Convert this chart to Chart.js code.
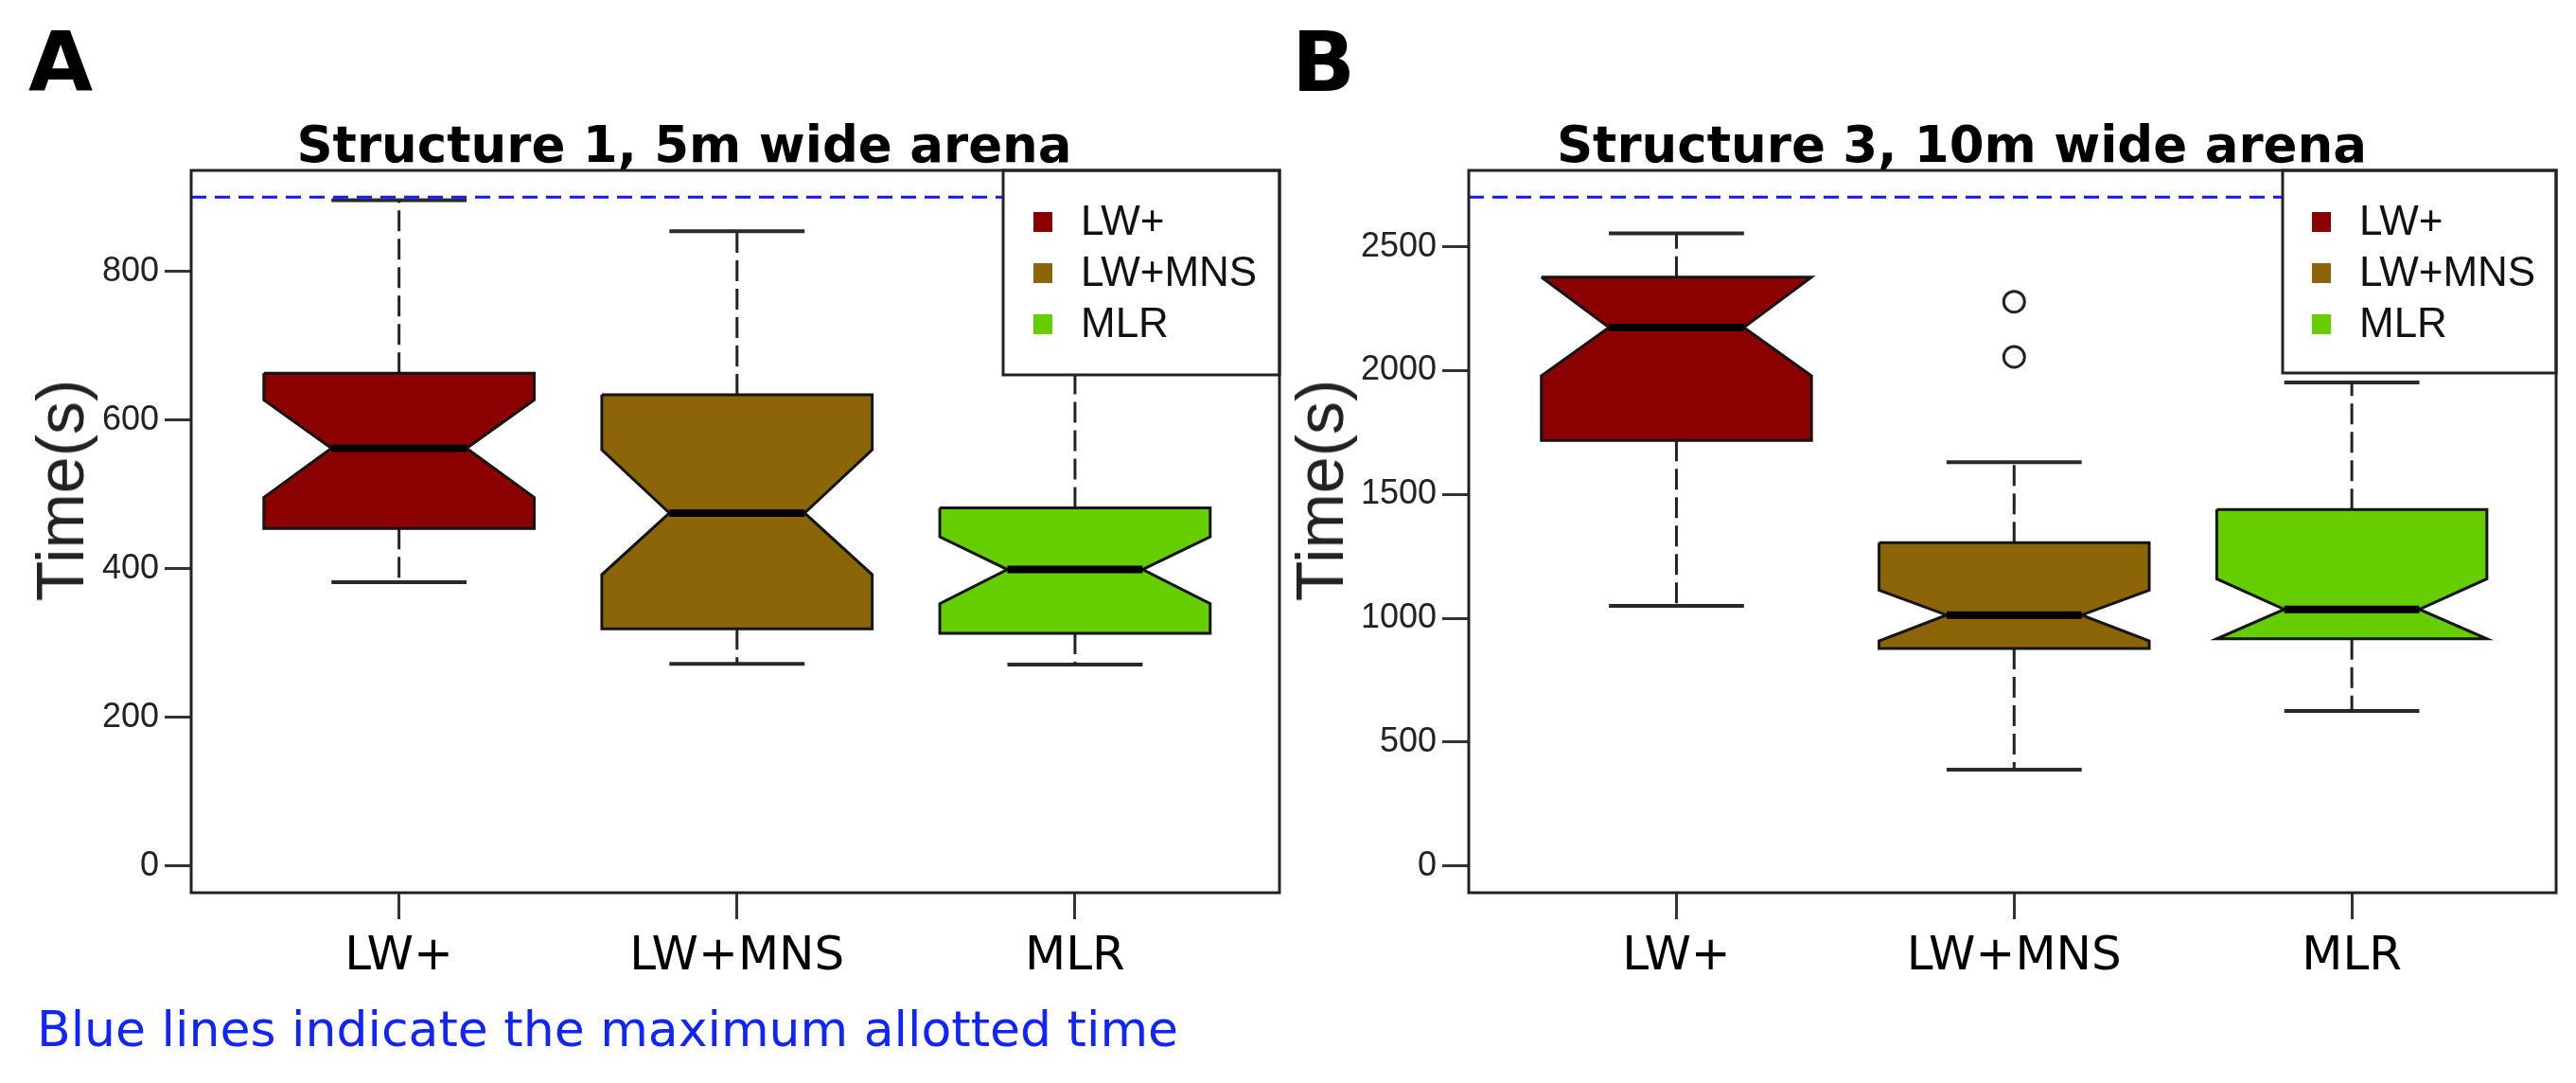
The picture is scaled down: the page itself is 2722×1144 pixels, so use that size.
<!DOCTYPE html>
<html>
<head>
<meta charset="utf-8">
<title>Time to complete task by structure</title>
<script src="https://cdn.jsdelivr.net/npm/chart.js@4.4.1/dist/chart.umd.min.js"></script>
<style>
  html, body { margin: 0; padding: 0; background: #fff; }
  body { width: 2722px; height: 1144px; position: relative; overflow: hidden; }
  .panel { position: absolute; top: 0; height: 1144px; }
  #panelA { left: 0; width: 1360px; }
  #panelB { left: 1360px; width: 1362px; }
  .tag { position: absolute; top: 22px; font: bold 88px/88px "DejaVu Sans"; color: #000; }
  .title {
    position: absolute;
    top: 126px;
    font: bold 53px/53px "DejaVu Sans";
    color: #000;
    white-space: nowrap;
    transform: translateX(-50%);
  }
  .ylab {
    position: absolute;
    font: 70px/70px "Liberation Sans";
    color: #222;
    white-space: nowrap;
    transform: translate(-50%, -50%) rotate(-90deg);
  }
  #note { position: absolute; left: 39px; top: 1061px; font: 52px/52px "DejaVu Sans"; color: #0f24ff; white-space: nowrap; }
</style>
</head>
<body>
<div class="panel" id="panelA"><canvas id="chartA" width="1360" height="1144"></canvas></div>
<div class="panel" id="panelB"><canvas id="chartB" width="1362" height="1144"></canvas></div>
<div class="tag" style="left:30px">A</div>
<div class="tag" style="left:1365px">B</div>
<div class="title" style="left:723px">Structure 1, 5m wide arena</div>
<div class="title" style="left:2073px">Structure 3, 10m wide arena</div>
<div class="ylab" style="left:64px; top:518px">Time(s)</div>
<div class="ylab" style="left:1395px; top:518px">Time(s)</div>
<div id="note">Blue lines indicate the maximum allotted time</div>

<script>
const groups = ['LW+', 'LW+MNS', 'MLR'];
const groupColors = ['#8b0000', '#8b6508', '#66cd00'];

// Structure 1, 5m wide arena (seconds)
const s1WhiskerLow = [382, 272, 271];
const s1Q1 = [454, 319, 313];
const s1NotchLow = [496, 392, 353];
const s1Median = [562, 475, 399];
const s1NotchHigh = [627, 560, 443];
const s1Q3 = [663, 634, 482];
const s1WhiskerHigh = [896, 854, 790];
const s1Outliers = [[], [], []];
const s1Limit = 900;
const s1Ticks = [0, 200, 400, 600, 800];

// Structure 3, 10m wide arena (seconds)
const s3WhiskerLow = [1050, 389, 626];
const s3Q1 = [1718, 878, 917];
const s3NotchLow = [1979, 908, 917];
const s3Median = [2174, 1013, 1036];
const s3NotchHigh = [2377, 1113, 1159];
const s3Q3 = [2377, 1305, 1439];
const s3WhiskerHigh = [2554, 1630, 1952];
const s3Outliers = [[], [2055, 2278], []];
const s3Limit = 2700;
const s3Ticks = [0, 500, 1000, 1500, 2000, 2500];

const BOX_HALF = 0.4;
const NOTCH_HALF = 0.2;
const X_MIN = 0.385;
const X_MAX = 3.605;

// R pads the y range by 4% on each side
function paddedRange(lo, hi) {
  const pad = (hi - lo) * 0.04;
  return [lo - pad, hi + pad];
}

function notchedBox(x, q1, nLo, med, nHi, q3) {
  const w = BOX_HALF, n = NOTCH_HALF;
  return [
    {x: x - w, y: q3}, {x: x + w, y: q3}, {x: x + w, y: nHi}, {x: x + n, y: med},
    {x: x + w, y: nLo}, {x: x + w, y: q1}, {x: x - w, y: q1}, {x: x - w, y: nLo},
    {x: x - n, y: med}, {x: x - w, y: nHi}, {x: x - w, y: q3},
  ];
}

function buildDatasets(s) {
  const sets = [];
  groups.forEach((g, i) => {
    const x = i + 1;
    sets.push({
      type: 'line',
      data: [{x, y: s.q3[i]}, {x, y: s.hi[i]}, {x, y: null}, {x, y: s.q1[i]}, {x, y: s.lo[i]}],
      borderColor: '#222', borderWidth: 3, borderDash: [22, 8],
      pointRadius: 0, spanGaps: false, order: 6,
    });
    sets.push({
      type: 'line',
      data: [
        {x: x - NOTCH_HALF, y: s.hi[i]}, {x: x + NOTCH_HALF, y: s.hi[i]}, {x, y: null},
        {x: x - NOTCH_HALF, y: s.lo[i]}, {x: x + NOTCH_HALF, y: s.lo[i]},
      ],
      borderColor: '#2a2a2a', borderWidth: 4,
      pointRadius: 0, spanGaps: false, order: 6,
    });
    sets.push({
      type: 'line',
      label: g,
      data: notchedBox(x, s.q1[i], s.nLo[i], s.med[i], s.nHi[i], s.q3[i]),
      borderColor: '#151515', borderWidth: 3, borderJoinStyle: 'miter',
      backgroundColor: groupColors[i], fill: 'shape',
      pointRadius: 0, order: 3,
    });
    sets.push({
      type: 'line',
      data: [{x: x - NOTCH_HALF, y: s.med[i]}, {x: x + NOTCH_HALF, y: s.med[i]}],
      borderColor: '#000', borderWidth: 8, borderCapStyle: 'butt',
      pointRadius: 0, order: 1,
    });
    if (s.out[i].length) {
      sets.push({
        type: 'scatter',
        data: s.out[i].map(v => ({x, y: v})),
        pointRadius: 11, pointBorderWidth: 3,
        pointBorderColor: '#222', pointBackgroundColor: '#fff',
        order: 0,
      });
    }
  });
  sets.push({
    type: 'line',
    data: [{x: X_MIN, y: s.limit}, {x: X_MAX, y: s.limit}],
    borderColor: '#1515ff', borderWidth: 3, borderDash: [16, 9],
    pointRadius: 0, order: 4,
  });
  return sets;
}

const frameAndLegend = {
  id: 'frameAndLegend',
  afterDatasetsDraw(chart, args, opts) {
    const {ctx, chartArea} = chart;
    const left = chartArea.right - opts.width;
    const top = chartArea.top;
    ctx.save();
    ctx.fillStyle = '#fff';
    ctx.fillRect(left, top, opts.width, opts.height);
    ctx.lineWidth = 3;
    ctx.strokeStyle = '#222';
    ctx.strokeRect(left, top, opts.width, opts.height);
    ctx.font = '44px "Liberation Sans"';
    ctx.textBaseline = 'middle';
    ctx.textAlign = 'left';
    groups.forEach((g, i) => {
      const y = top + opts.firstRow + i * opts.rowGap;
      ctx.fillStyle = groupColors[i];
      ctx.fillRect(left + opts.swatchX, y - 10, 20, 21);
      ctx.fillStyle = '#111';
      ctx.fillText(g, left + opts.textX, y + 2);
    });
    ctx.restore();
  },
  afterDraw(chart) {
    const {ctx, chartArea} = chart;
    ctx.save();
    ctx.lineWidth = 3;
    ctx.strokeStyle = '#222';
    ctx.strokeRect(chartArea.left, chartArea.top, chartArea.right - chartArea.left, chartArea.bottom - chartArea.top);
    ctx.restore();
  },
};

function makeChart(canvasId, s) {
  const [yMin, yMax] = paddedRange(0, s.limit);
  return new Chart(document.getElementById(canvasId), {
    type: 'line',
    data: { datasets: buildDatasets(s) },
    plugins: [frameAndLegend],
    options: {
      responsive: false,
      animation: false,
      events: [],
      layout: { padding: s.padding },
      scales: {
        x: {
          type: 'linear',
          min: X_MIN,
          max: X_MAX,
          border: { display: false },
          grid: { drawOnChartArea: false, tickLength: 28, tickWidth: 3, tickColor: '#333' },
          ticks: {
            autoSkip: false,
            maxRotation: 0,
            padding: 10,
            color: '#000',
            font: { family: 'DejaVu Sans', size: 50 },
            callback: (value, index) => groups[index],
          },
          afterBuildTicks: axis => { axis.ticks = groups.map((g, i) => ({value: i + 1})); },
          afterFit: axis => { axis.height = 201; },
        },
        y: {
          type: 'linear',
          min: yMin,
          max: yMax,
          border: { display: false },
          grid: { drawOnChartArea: false, tickLength: 28, tickWidth: 3, tickColor: '#333' },
          ticks: {
            padding: 6,
            color: '#222',
            font: { family: 'Liberation Sans', size: 36 },
            callback: value => String(value),
          },
          afterBuildTicks: axis => { axis.ticks = s.ticks.map(v => ({value: v})); },
          afterFit: axis => { axis.width = s.yAxisWidth; },
        },
      },
      plugins: {
        legend: { display: false },
        tooltip: { enabled: false },
        title: { display: false },
        frameAndLegend: s.legend,
      },
    },
  });
}

makeChart('chartA', {
  lo: s1WhiskerLow, q1: s1Q1, nLo: s1NotchLow, med: s1Median, nHi: s1NotchHigh,
  q3: s1Q3, hi: s1WhiskerHigh, out: s1Outliers, limit: s1Limit, ticks: s1Ticks,
  padding: { left: 20, right: 8, top: 180, bottom: 0 },
  yAxisWidth: 182,
  legend: { width: 292, height: 216, swatchX: 32, textX: 82, firstRow: 54, rowGap: 54 },
});

makeChart('chartB', {
  lo: s3WhiskerLow, q1: s3Q1, nLo: s3NotchLow, med: s3Median, nHi: s3NotchHigh,
  q3: s3Q3, hi: s3WhiskerHigh, out: s3Outliers, limit: s3Limit, ticks: s3Ticks,
  padding: { left: 20, right: 21, top: 180, bottom: 0 },
  yAxisWidth: 172,
  legend: { width: 289, height: 214, swatchX: 31, textX: 81, firstRow: 54, rowGap: 54 },
});
</script>
</body>
</html>
